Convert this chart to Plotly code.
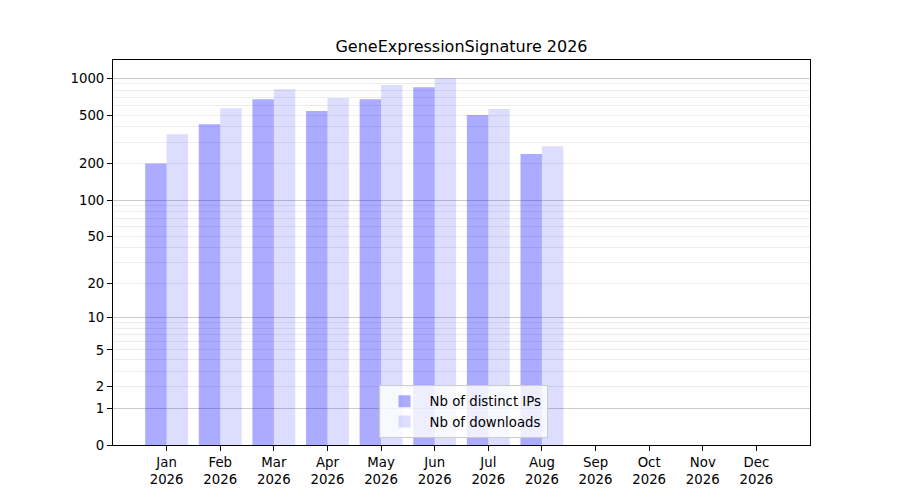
import numpy as np
import plotly.graph_objects as go

months = ["Jan", "Feb", "Mar", "Apr", "May", "Jun", "Jul", "Aug", "Sep", "Oct", "Nov", "Dec"]
year = "2026"
distinct_ips = [200, 420, 675, 540, 675, 845, 500, 240, None, None, None, None]
downloads = [348, 570, 815, 690, 880, 1000, 560, 278, None, None, None, None]
tick_values = [0, 1, 2, 5, 10, 20, 50, 100, 200, 500, 1000]
major_grid = [1, 10, 100, 1000]


# y axis is log10(1 + value), like the original function scale
def fwd(v):
    return [None if x is None else float(np.log10(1 + x)) for x in v]


minor_grid = [m * d for d in (1, 10, 100) for m in range(2, 10)]
labels = [m + "<br>" + year for m in months]
font = "DejaVu Sans"

fig = go.Figure()
fig.add_trace(go.Bar(x=labels, y=fwd(distinct_ips), name="Nb of distinct IPs",
                     marker=dict(color="rgba(0,0,255,0.33)", line=dict(width=0)),
                     customdata=distinct_ips, hovertemplate="%{customdata}"))
fig.add_trace(go.Bar(x=labels, y=fwd(downloads), name="Nb of downloads",
                     marker=dict(color="rgba(0,0,255,0.135)", line=dict(width=0)),
                     customdata=downloads, hovertemplate="%{customdata}"))

ymax = np.log10(1 + 1000) * 1.05

# page body has an 8px margin, so the margins are offset by that
fig.update_layout(
    width=900, height=500,
    margin=dict(l=104.5, r=98, t=52, b=63),
    paper_bgcolor="white", plot_bgcolor="white",
    font=dict(family=font, size=13.3, color="black"),
    barmode="group", bargap=0.2, bargroupgap=0,
    title=dict(text="GeneExpressionSignature 2026", x=0.5, xref="paper",
               y=1 - 38 / 500, yref="container", yanchor="middle",
               font=dict(size=16, family=font)),
    legend=dict(x=0.381, y=0.018, xanchor="left", yanchor="bottom", itemwidth=40,
                bgcolor="rgba(255,255,255,0.8)", bordercolor="#cccccc", borderwidth=1,
                font=dict(size=13.3, family=font)),
    xaxis=dict(range=[-1, 12], showgrid=False, showline=True, linecolor="black",
               linewidth=1, mirror=True, ticks="outside", ticklen=5, tickcolor="black",
               zeroline=False, categoryorder="array", categoryarray=labels),
    yaxis=dict(range=[0, ymax], tickmode="array", tickvals=fwd(tick_values),
               ticktext=[str(t) for t in tick_values], showgrid=False,
               showline=True, linecolor="black", linewidth=1, mirror=True,
               ticks="outside", ticklen=5, tickcolor="black", zeroline=False,
               minor=dict(tickmode="array", tickvals=fwd(minor_grid), showgrid=True,
                          gridcolor="#ececec", gridwidth=1, ticks="")),
    yaxis2=dict(range=[0, ymax], overlaying="y", tickmode="array",
                tickvals=fwd(major_grid), showgrid=True, gridcolor="#cbcbcb",
                gridwidth=1, showticklabels=False, ticks="", zeroline=False,
                showline=False),
)
# invisible trace so the second axis draws its gridlines
fig.add_trace(go.Scatter(x=[labels[0]], y=[0], yaxis="y2", mode="markers",
                         marker=dict(opacity=0), showlegend=False, hoverinfo="skip"))

fig.write_html("out.html")
